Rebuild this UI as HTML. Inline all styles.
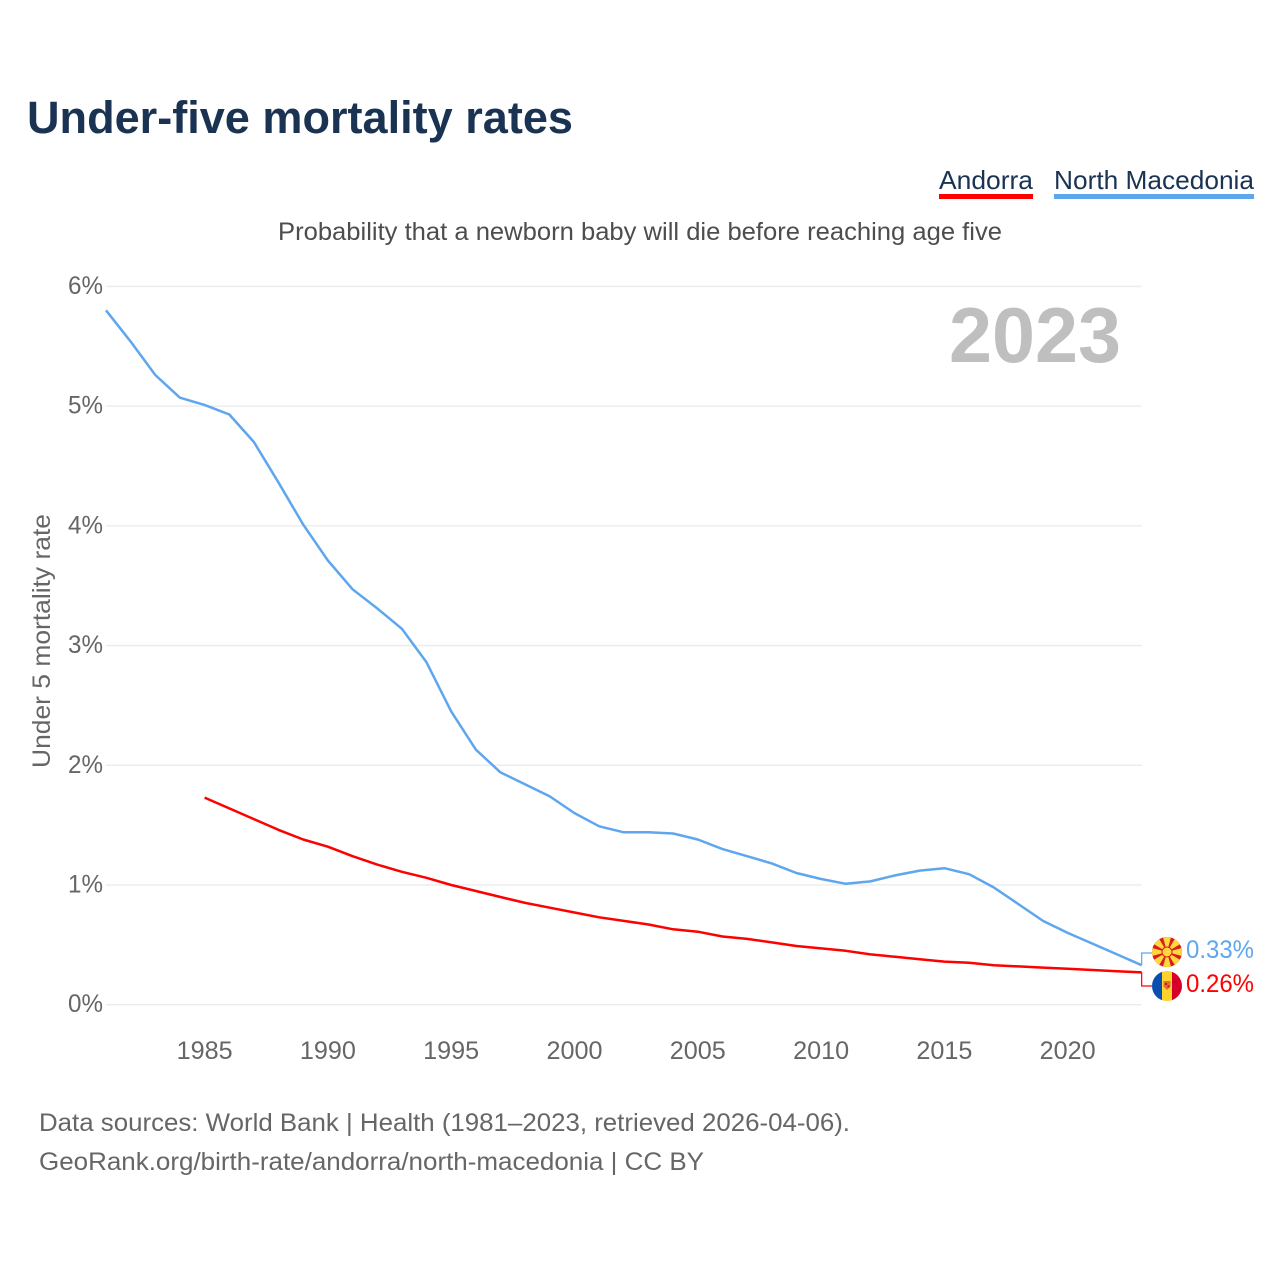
<!DOCTYPE html>
<html lang="en">
<head>
<meta charset="utf-8">
<title>Under-five mortality rates</title>
<style>
html,body{margin:0;padding:0;background:#fff;width:1280px;height:1280px;overflow:hidden}
svg{display:block}
text{font-family:"Liberation Sans",sans-serif}
</style>
</head>
<body>
<svg id="chart" xmlns="http://www.w3.org/2000/svg" width="1280" height="1280" viewBox="0 0 1280 1280">
  <rect width="1280" height="1280" fill="#fff"/>
  <text x="27" y="133" font-size="45" font-weight="700" fill="#1a3353" textLength="546" lengthAdjust="spacingAndGlyphs">Under-five mortality rates</text>

  <g>
    <text x="939" y="189" font-size="26" fill="#1a3353" textLength="94" lengthAdjust="spacingAndGlyphs">Andorra</text>
    <rect x="939" y="194" width="94" height="5" fill="#ff0000"/>
  </g>
  <g>
    <text x="1054" y="189" font-size="26" fill="#1a3353" textLength="200" lengthAdjust="spacingAndGlyphs">North Macedonia</text>
    <rect x="1054" y="194" width="200" height="5" fill="#5ea6ee"/>
  </g>

  <text x="278" y="240" font-size="25" fill="#4d4d4d" textLength="724" lengthAdjust="spacingAndGlyphs">Probability that a newborn baby will die before reaching age five</text>

  <g id="grid"></g>
  <g id="yticks"></g>
  <g id="xticks"></g>

  <text transform="translate(50,768) rotate(-90)" x="0" y="0" font-size="25" fill="#666" textLength="254" lengthAdjust="spacingAndGlyphs">Under 5 mortality rate</text>
  <text x="949" y="362" font-size="78" font-weight="700" fill="#bfbfbf" textLength="172" lengthAdjust="spacingAndGlyphs">2023</text>

  <path id="line-mk" fill="none" stroke="#5ea6ee" stroke-width="2.5" stroke-linejoin="round"/>
  <path id="line-ad" fill="none" stroke="#ff0000" stroke-width="2.5" stroke-linejoin="round"/>
  <path id="conn-mk" fill="none" stroke="#5ea6ee" stroke-width="1.2"/>
  <path id="conn-ad" fill="none" stroke="#ff0000" stroke-width="1.2"/>

  <defs>
    <clipPath id="clip-mk"><circle cx="1167" cy="952" r="15"/></clipPath>
    <clipPath id="clip-ad"><circle cx="1167" cy="986" r="15"/></clipPath>
  </defs>
  <g clip-path="url(#clip-mk)">
    <rect x="1152" y="937" width="30" height="30" fill="#d81e1e"/>
    <g fill="#ffd83d">
      <polygon points="1167,952 1163,937 1171,937"/>
      <polygon points="1167,952 1163,967 1171,967"/>
      <polygon points="1167,952 1152,948 1152,956"/>
      <polygon points="1167,952 1182,948 1182,956"/>
      <polygon points="1167,952 1152,943 1158,937"/>
      <polygon points="1167,952 1182,943 1176,937"/>
      <polygon points="1167,952 1152,961 1158,967"/>
      <polygon points="1167,952 1182,961 1176,967"/>
      <circle cx="1167" cy="952" r="5" stroke="#d81e1e" stroke-width="1"/>
    </g>
  </g>
  <g clip-path="url(#clip-ad)">
    <rect x="1152" y="971" width="10" height="30" fill="#0a4fb0"/>
    <rect x="1162" y="971" width="10" height="30" fill="#fed22a"/>
    <rect x="1172" y="971" width="10" height="30" fill="#d4002a"/>
    <path d="M1163.5 981 h7 v5.5 l-3.5 3.5 l-3.5 -3.5 z" fill="#e0702a"/>
    <rect x="1165" y="983" width="2" height="2" fill="#c9102c"/>
    <rect x="1167.5" y="985.5" width="2" height="2" fill="#c9102c"/>
  </g>

  <text x="1186" y="958" font-size="25" fill="#5ea6ee" textLength="68" lengthAdjust="spacingAndGlyphs">0.33%</text>
  <text x="1186" y="992" font-size="25" fill="#ff0000" textLength="68" lengthAdjust="spacingAndGlyphs">0.26%</text>

  <text x="39" y="1131" font-size="25" fill="#666" textLength="811" lengthAdjust="spacingAndGlyphs">Data sources: World Bank | Health (1981–2023, retrieved 2026-04-06).</text>
  <text x="39" y="1170" font-size="25" fill="#666" textLength="665" lengthAdjust="spacingAndGlyphs">GeoRank.org/birth-rate/andorra/north-macedonia | CC BY</text>
</svg>
<script>
const mkYears = [1981,1982,1983,1984,1985,1986,1987,1988,1989,1990,1991,1992,1993,1994,1995,1996,1997,1998,1999,2000,2001,2002,2003,2004,2005,2006,2007,2008,2009,2010,2011,2012,2013,2014,2015,2016,2017,2018,2019,2020,2021,2022,2023];
const mkValues = [5.80,5.54,5.26,5.07,5.01,4.93,4.70,4.36,4.01,3.71,3.47,3.31,3.14,2.86,2.45,2.13,1.94,1.84,1.74,1.60,1.49,1.44,1.44,1.43,1.38,1.30,1.24,1.18,1.10,1.05,1.01,1.03,1.08,1.12,1.14,1.09,0.98,0.84,0.70,0.60,0.51,0.42,0.33];
const adYears = [1985,1986,1987,1988,1989,1990,1991,1992,1993,1994,1995,1996,1997,1998,1999,2000,2001,2002,2003,2004,2005,2006,2007,2008,2009,2010,2011,2012,2013,2014,2015,2016,2017,2018,2019,2020,2021,2022,2023];
const adValues = [1.73,1.64,1.55,1.46,1.38,1.32,1.24,1.17,1.11,1.06,1.00,0.95,0.90,0.85,0.81,0.77,0.73,0.70,0.67,0.63,0.61,0.57,0.55,0.52,0.49,0.47,0.45,0.42,0.40,0.38,0.36,0.35,0.33,0.32,0.31,0.30,0.29,0.28,0.27];
const yTickValues = [0,1,2,3,4,5,6];
const yTickLabels = ["0%","1%","2%","3%","4%","5%","6%"];
const xTickValues = [1985,1990,1995,2000,2005,2010,2015,2020];

const NS = "http://www.w3.org/2000/svg";
function xScale(year){ return 204.6 + (year - 1985) * 24.66; }
function yScale(v){ return 1004.7 - v * 119.72; }
function linePath(years, values){
  return values.map(function(v, i){
    return (i ? "L" : "M") + xScale(years[i]).toFixed(1) + " " + yScale(v).toFixed(1);
  }).join(" ");
}

const grid = document.getElementById("grid");
const yticks = document.getElementById("yticks");
const xticks = document.getElementById("xticks");

yTickValues.forEach(function(v, i){
  const ln = document.createElementNS(NS, "line");
  
  
  ln.setAttribute("x1", xScale(1981));
  ln.setAttribute("x2", xScale(2023));
  ln.setAttribute("y1", yScale(v));
  ln.setAttribute("y2", yScale(v));
  ln.setAttribute("stroke", "#ececec");
  ln.setAttribute("stroke-width", "1.4");
  grid.appendChild(ln);

  const t = document.createElementNS(NS, "text");
  
  
  t.setAttribute("x", 68);
  t.setAttribute("y", yScale(v) + 7.5);
  t.setAttribute("font-size", "25");
  t.setAttribute("fill", "#666");
  t.setAttribute("textLength", "35");
  t.setAttribute("lengthAdjust", "spacingAndGlyphs");
  t.textContent = yTickLabels[i];
  yticks.appendChild(t);
});

xTickValues.forEach(function(y){
  const t = document.createElementNS(NS, "text");
  
  
  t.setAttribute("x", xScale(y) - 28);
  t.setAttribute("y", 1059);
  t.setAttribute("font-size", "25");
  t.setAttribute("fill", "#666");
  t.setAttribute("textLength", "56");
  t.setAttribute("lengthAdjust", "spacingAndGlyphs");
  t.textContent = String(y);
  xticks.appendChild(t);
});

document.getElementById("line-mk").setAttribute("d", linePath(mkYears, mkValues));
document.getElementById("line-ad").setAttribute("d", linePath(adYears, adValues));

const endX = xScale(2023);
const mkEnd = yScale(mkValues[mkValues.length - 1]);
const adEnd = yScale(adValues[adValues.length - 1]);
document.getElementById("conn-mk").setAttribute("d", "M" + endX + " " + mkEnd + " V953 H1152");
document.getElementById("conn-ad").setAttribute("d", "M" + endX + " " + adEnd + " V986 H1152");
</script>
</body>
</html>
